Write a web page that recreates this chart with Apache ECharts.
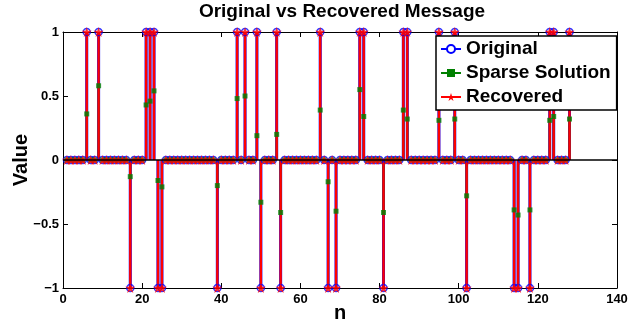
<!DOCTYPE html>
<html><head><meta charset="utf-8">
<script src="https://cdn.jsdelivr.net/npm/echarts@6/dist/echarts.min.js"></script>
<style>html,body{margin:0;padding:0;background:#fff}#c{width:630px;height:324px}</style>
</head><body><div id="c"></div>
<script>
// Sample index n = 1..128 (position in arrays)
const original = [
  0,0,0,0,0,1,0,0,1,0,0,0,0,0,0,0,
  -1,0,0,0,1,1,1,-1,-1,0,0,0,0,0,0,0,
  0,0,0,0,0,0,-1,0,0,0,0,1,0,1,0,0,
  1,-1,0,0,0,1,-1,0,0,0,0,0,0,0,0,0,
  1,0,-1,0,-1,0,0,0,0,0,1,1,0,0,0,0,
  -1,0,0,0,0,1,1,0,0,0,0,0,0,0,1,0,
  0,0,1,0,0,-1,0,0,0,0,0,0,0,0,0,0,
  0,-1,-1,0,0,-1,0,0,0,0,1,1,0,0,0,1
];
const sparseSolution = [
  0,0,0,0,0,0.36,0,0,0.58,0,0,0,0,0,0,0,
  -0.13,0,0,0,0.43,0.46,0.54,-0.16,-0.21,0,0,0,0,0,0,0,
  0,0,0,0,0,0,-0.20,0,0,0,0,0.48,0,0.50,0,0,
  0.19,-0.33,0,0,0,0.20,-0.41,0,0,0,0,0,0,0,0,0,
  0.39,0,-0.17,0,-0.40,0,0,0,0,0,0.55,0.34,0,0,0,0,
  -0.41,0,0,0,0,0.39,0.32,0,0,0,0,0,0,0,0.31,0,
  0,0,0.32,0,0,-0.28,0,0,0,0,0,0,0,0,0,0,
  0,-0.39,-0.43,0,0,-0.39,0,0,0,0,0.31,0.34,0,0,0,0.32
];
const recovered = [
  0,0,0,0,0,1,0,0,1,0,0,0,0,0,0,0,
  -1,0,0,0,1,1,1,-1,-1,0,0,0,0,0,0,0,
  0,0,0,0,0,0,-1,0,0,0,0,1,0,1,0,0,
  1,-1,0,0,0,1,-1,0,0,0,0,0,0,0,0,0,
  1,0,-1,0,-1,0,0,0,0,0,1,1,0,0,0,0,
  -1,0,0,0,0,1,1,0,0,0,0,0,0,0,1,0,
  0,0,1,0,0,-1,0,0,0,0,0,0,0,0,0,0,
  0,-1,-1,0,0,-1,0,0,0,0,1,1,0,0,0,1
];
const seriesNames = ['Original','Sparse Solution','Recovered'];
const titleText = 'Original vs Recovered Message';

const FONT = '"Liberation Sans", Arial, Helvetica, sans-serif';
const STAR = 'path://M50,0L61.8,35.3L99,35.3L69,57.1L80.4,92.7L50,70.9L19.6,92.7L31,57.1L1,35.3L38.2,35.3Z';
const BLUE = '#0000ff', GREEN = '#008000', RED = '#ff0000';

function pts(arr){ return arr.map((v,i)=>[i+1,v]); }
function stem(name, arr, color, width){
  return {
    name, type:'custom', data: pts(arr), silent:true, animation:false,
    encode:{x:0,y:1},
    renderItem(params, api){
      const x = api.value(0), y = api.value(1);
      const p0 = api.coord([x,0]), p1 = api.coord([x,y]);
      return {type:'line', shape:{x1:p0[0],y1:p0[1],x2:p1[0],y2:p1[1]},
              style:{stroke:color, lineWidth:width}};
    }
  };
}
function legendLine(name, color, symbol, size, extra){
  return Object.assign({name, type:'line', data:[], symbol, symbolSize:size, animation:false,
    lineStyle:{color, width:2}, itemStyle:{color}}, extra||{});
}
function marks(name, arr, symbol, size, itemStyle){
  return {name, type:'scatter', data: pts(arr), symbol, symbolSize:size, silent:true,
    animation:false, itemStyle};
}
const axisCommon = {
  axisLine:{onZero:false, lineStyle:{color:'#000', width:1}},
  axisTick:{inside:true, length:5, lineStyle:{color:'#000', width:1}},
  splitLine:{show:false}
};
const labelStyle = {fontFamily:FONT, fontWeight:'bold', fontSize:13, color:'#000'};
const minus = v => (v < 0 ? '\u2212' : '') + Math.abs(v);

const chart = echarts.init(document.getElementById('c'), null, {renderer:'canvas'});
chart.setOption({
  backgroundColor:'#fff',
  animation:false,
  title:{text:titleText, left:342, top:2, textAlign:'center', padding:0,
    textStyle:{fontFamily:FONT, fontWeight:'bold', fontSize:19, color:'#000'}},
  grid:{left:63, right:13, top:32, bottom:36, containLabel:false, outerBoundsMode:'none'},
  legend:{orient:'vertical', left:436, top:36, padding:[1,6,1,4], itemGap:0,
    itemWidth:20, itemHeight:10, backgroundColor:'#fff', borderColor:'#000', borderWidth:1.5,
    borderRadius:0, selectedMode:false, data:seriesNames,
    textStyle:{fontFamily:FONT, fontWeight:'bold', fontSize:19, color:'#000', lineHeight:24}},
  xAxis:[
    Object.assign({type:'value', min:0, max:140, interval:20, position:'bottom',
      axisLabel:Object.assign({margin:5, formatter:minus}, labelStyle),
      name:'n', nameLocation:'middle', nameGap:15, nameMoveOverlap:false,
      nameTextStyle:{fontFamily:FONT, fontWeight:'bold', fontSize:20, color:'#000'}}, axisCommon),
    Object.assign({type:'value', min:0, max:140, interval:20, position:'top',
      axisLabel:{show:false}}, axisCommon)
  ],
  yAxis:[
    Object.assign({type:'value', min:-1, max:1, interval:0.5, position:'left',
      axisLabel:Object.assign({margin:4, formatter:minus}, labelStyle),
      name:'Value', nameLocation:'middle', nameGap:32, nameMoveOverlap:false,
      nameTextStyle:{fontFamily:FONT, fontWeight:'bold', fontSize:20, color:'#000'}}, axisCommon),
    Object.assign({type:'value', min:-1, max:1, interval:0.5, position:'right',
      axisLabel:{show:false}}, axisCommon)
  ],
  series:[
    legendLine(seriesNames[0], BLUE, 'emptyCircle', 7, {
      markLine:{silent:true, symbol:'none', label:{show:false}, animation:false,
        lineStyle:{color:'#000', width:1.5, type:'solid'}, data:[{yAxis:0}]}}),
    legendLine(seriesNames[1], GREEN, 'rect', 6),
    legendLine(seriesNames[2], RED, STAR, 10),
    stem(seriesNames[0], original, BLUE, 3),
    stem(seriesNames[1], sparseSolution, GREEN, 2),
    stem(seriesNames[2], recovered, RED, 2.4),
    marks(seriesNames[0], original, 'circle', 7, {color:'rgba(0,0,0,0)', borderColor:BLUE, borderWidth:1.5}),
    marks(seriesNames[1], sparseSolution, 'rect', 5, {color:GREEN}),
    marks(seriesNames[2], recovered, STAR, 10, {color:RED})
  ]
});
</script></body></html>
